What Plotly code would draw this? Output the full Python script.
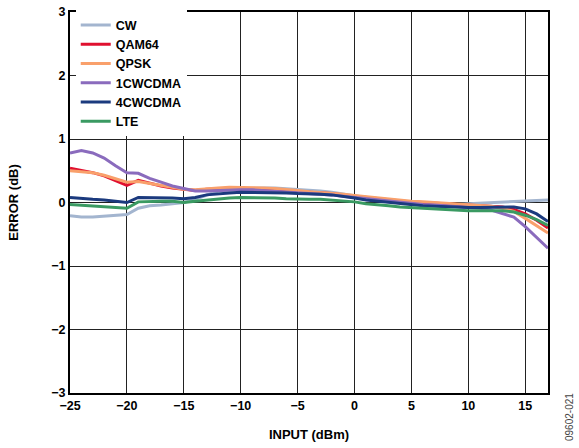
import plotly.graph_objects as go

# input power sweep, dBm
INPUT_DBM = list(range(-25, 18))

# error (dB) per modulation
ERR_CW = [-0.21, -0.23, -0.23, -0.22, -0.21, -0.19, -0.09, -0.05, -0.04, -0.02,
          0.00, 0.05, 0.12, 0.18, 0.21, 0.22, 0.22, 0.23, 0.23, 0.22,
          0.21, 0.19, 0.18, 0.16, 0.13, 0.11, 0.08, 0.06, 0.04, 0.02,
          0.00, -0.01, -0.02, -0.03, -0.03, -0.02, -0.01, 0.00, 0.01, 0.02,
          0.03, 0.04, 0.04]
ERR_QAM64 = [0.54, 0.51, 0.47, 0.42, 0.35, 0.27, 0.35, 0.30, 0.26, 0.23,
             0.21, 0.19, 0.21, 0.22, 0.22, 0.22, 0.21, 0.21, 0.20, 0.19,
             0.18, 0.17, 0.15, 0.14, 0.12, 0.10, 0.08, 0.06, 0.04, 0.02,
             0.01, 0.00, -0.01, -0.02, -0.03, -0.03, -0.04, -0.05, -0.07, -0.11,
             -0.18, -0.28, -0.40]
ERR_QPSK = [0.50, 0.49, 0.47, 0.43, 0.38, 0.32, 0.33, 0.30, 0.27, 0.24,
            0.21, 0.20, 0.22, 0.23, 0.24, 0.24, 0.23, 0.23, 0.22, 0.21,
            0.19, 0.17, 0.16, 0.15, 0.13, 0.11, 0.09, 0.07, 0.05, 0.03,
            0.02, 0.01, 0.00, -0.01, -0.02, -0.03, -0.04, -0.06, -0.09, -0.14,
            -0.25, -0.36, -0.48]
ERR_1CWCDMA = [0.78, 0.82, 0.78, 0.70, 0.58, 0.47, 0.46, 0.38, 0.32, 0.26,
               0.22, 0.18, 0.18, 0.19, 0.20, 0.20, 0.20, 0.19, 0.18, 0.17,
               0.16, 0.15, 0.14, 0.12, 0.10, 0.08, 0.06, 0.04, 0.02, 0.00,
               -0.01, -0.03, -0.04, -0.05, -0.06, -0.07, -0.09, -0.12, -0.17, -0.23,
               -0.38, -0.55, -0.72]
ERR_4CWCDMA = [0.08, 0.06, 0.05, 0.04, 0.02, 0.00, 0.08, 0.08, 0.08, 0.07,
               0.06, 0.08, 0.12, 0.14, 0.15, 0.16, 0.16, 0.16, 0.16, 0.15,
               0.14, 0.14, 0.13, 0.12, 0.10, 0.07, 0.04, 0.02, 0.00, -0.02,
               -0.04, -0.05, -0.06, -0.07, -0.08, -0.08, -0.08, -0.08, -0.07, -0.07,
               -0.10, -0.18, -0.30]
ERR_LTE = [-0.03, -0.04, -0.05, -0.06, -0.07, -0.09, 0.01, 0.02, 0.02, 0.02,
           0.00, 0.02, 0.04, 0.06, 0.07, 0.08, 0.08, 0.07, 0.07, 0.06,
           0.05, 0.05, 0.05, 0.04, 0.03, 0.01, -0.02, -0.03, -0.05, -0.07,
           -0.08, -0.10, -0.11, -0.12, -0.12, -0.13, -0.13, -0.13, -0.13, -0.15,
           -0.20, -0.27, -0.36]

SERIES = [
    ("CW", ERR_CW, "#a3b5cf"),
    ("QAM64", ERR_QAM64, "#e0102f"),
    ("QPSK", ERR_QPSK, "#f9a06b"),
    ("1CWCDMA", ERR_1CWCDMA, "#8a6bbd"),
    ("4CWCDMA", ERR_4CWCDMA, "#1b3a7e"),
    ("LTE", ERR_LTE, "#3a9a62"),
]

FONT = "Arial, Liberation Sans, sans-serif"
BOLD = dict(family=FONT, size=12.5, weight="bold", color="black")

fig = go.Figure()
for name, vals, color in SERIES:
    fig.add_trace(go.Scatter(
        x=INPUT_DBM, y=vals, mode="lines", name=name,
        line=dict(color=color, width=3),
    ))

fig.update_layout(
    width=579, height=448,
    margin=dict(l=70, r=31, t=10, b=55),
    paper_bgcolor="white", plot_bgcolor="white",
    font=dict(family=FONT, size=12, color="black"),
    showlegend=True,
    legend=dict(
        x=0.012, y=1.004, xanchor="left", yanchor="top",
        bgcolor="white", borderwidth=0,
        font=BOLD, itemwidth=30, tracegroupgap=0,
    ),
)

fig.update_xaxes(
    range=[-25, 17], dtick=5, tick0=-25, automargin=False,
    showgrid=True, gridcolor="#222", gridwidth=1,
    showline=True, linecolor="black", linewidth=2, mirror=True,
    ticks="", zeroline=False,
    tickfont=BOLD,
    title=dict(text="INPUT (dBm)", standoff=18,
               font=dict(family=FONT, size=13, weight="bold")),
)
fig.update_yaxes(
    range=[-3, 3], dtick=1, automargin=False,
    showgrid=True, gridcolor="#222", gridwidth=1,
    showline=True, linecolor="black", linewidth=2, mirror=True,
    ticks="", zeroline=False, ticklabeloverflow="allow",
    tickfont=BOLD,
    title=dict(text="ERROR (dB)", standoff=30,
               font=dict(family=FONT, size=13, weight="bold")),
)

fig.add_annotation(
    text="09602-021", xref="paper", yref="paper",
    x=1.0, y=0.0, xshift=21, yshift=-50, textangle=-90,
    showarrow=False, xanchor="center", yanchor="bottom",
    font=dict(family=FONT, size=10, color="#444"),
)

# drop the default 8px body margin so the figure sits flush in the window
fig.write_html("out.html", config={"displayModeBar": False},
               post_script="document.body.style.margin='0';")
